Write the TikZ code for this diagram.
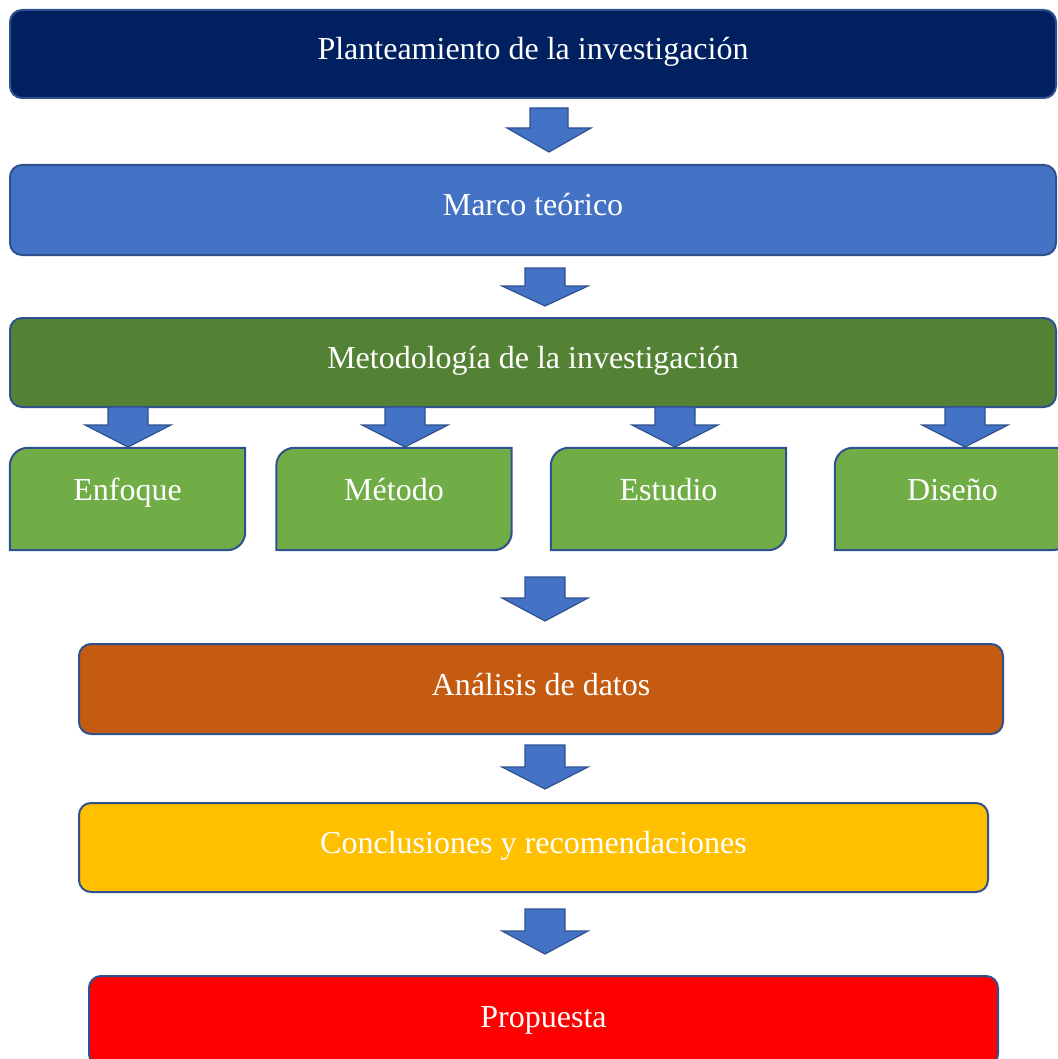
\documentclass[tikz,border=0pt]{standalone}
\usepackage{fontspec}
\setmainfont{Liberation Serif}
\usetikzlibrary{backgrounds}
\definecolor{bord}{HTML}{2F528F}
\definecolor{navy}{HTML}{002060}
\definecolor{blu}{HTML}{4472C4}
\definecolor{dgreen}{HTML}{548235}
\definecolor{lgreen}{HTML}{70AD47}
\definecolor{orng}{HTML}{C55A11}
\definecolor{gold}{HTML}{FFC000}
\definecolor{rd}{HTML}{FF0000}
\newcommand\blkarr[6]{\draw[arrowsty] ({#1-#5},#2) -- ({#1+#5},#2) -- ({#1+#5},#3) -- ({#1+#6},#3) -- (#1,#4) -- ({#1-#6},#3) -- ({#1-#5},#3) -- cycle;}
\newcommand\smallshape[2]{\draw[smallsty,fill=#2] (#1.north east) -- ([xshift=18pt]#1.north west) arc[start angle=90,end angle=180,radius=18pt] -- (#1.south west) -- ([xshift=-18pt]#1.south east) arc[start angle=270,end angle=360,radius=18pt] -- cycle;}
\begin{document}
\begin{tikzpicture}[x=1pt,y=-1pt,
  bigbox/.style={draw=bord, line width=2pt, rounded corners=12pt, text=white,
    font=\fontsize{32}{38}\selectfont, inner sep=0pt, text height=24pt, text depth=12pt},
  smallbox/.style={text=white, font=\fontsize{32}{38}\selectfont, inner sep=0pt,
    text height=22pt, text depth=20pt, minimum width=235pt, minimum height=102pt},
  smallsty/.style={draw=bord, line width=2pt},
  arrowsty/.style={draw=bord, line width=1.2pt, fill=blu, line join=miter}]
\useasboundingbox (0,0) rectangle (1057,1059);

\node[bigbox, fill=navy, minimum width=1046pt, minimum height=88pt] (b1) at (533,54) {Planteamiento de la investigación};
\node[bigbox, fill=blu, minimum width=1046pt, minimum height=90pt] (b2) at (533,210) {Marco teórico};
\node[bigbox, fill=dgreen, minimum width=1046pt, minimum height=89pt] (b3) at (533,362.5) {Metodología de la investigación};

\node[smallbox] (s1) at (127.5,499) {Enfoque};
\node[smallbox] (s2) at (394,499) {Método};
\node[smallbox] (s3) at (668.5,499) {Estudio};
\node[smallbox] (s4) at (952.5,499) {Diseño};
\begin{scope}[on background layer]
\smallshape{s1}{lgreen}
\smallshape{s2}{lgreen}
\smallshape{s3}{lgreen}
\smallshape{s4}{lgreen}
\end{scope}

\node[bigbox, fill=orng, minimum width=924pt, minimum height=90pt] (b4) at (541,689) {Análisis de datos};
\node[bigbox, fill=gold, minimum width=909pt, minimum height=89pt] (b5) at (533.5,847.5) {Conclusiones y recomendaciones};
\node[bigbox, fill=rd, minimum width=909pt, minimum height=90pt] (b6) at (543.5,1021) {Propuesta};

\blkarr{549}{108}{128}{152}{19}{42}
\blkarr{545}{268}{286}{306}{20}{43}
\blkarr{128}{407}{425}{447}{20}{43}
\blkarr{405}{407}{425}{447}{20}{43}
\blkarr{675}{407}{425}{447}{20}{43}
\blkarr{965}{407}{425}{447}{20}{43}
\blkarr{545}{577}{598}{621}{20}{43}
\blkarr{545}{745}{767}{789}{20}{43}
\blkarr{545}{909}{931}{954}{20}{43}
\end{tikzpicture}
\end{document}
